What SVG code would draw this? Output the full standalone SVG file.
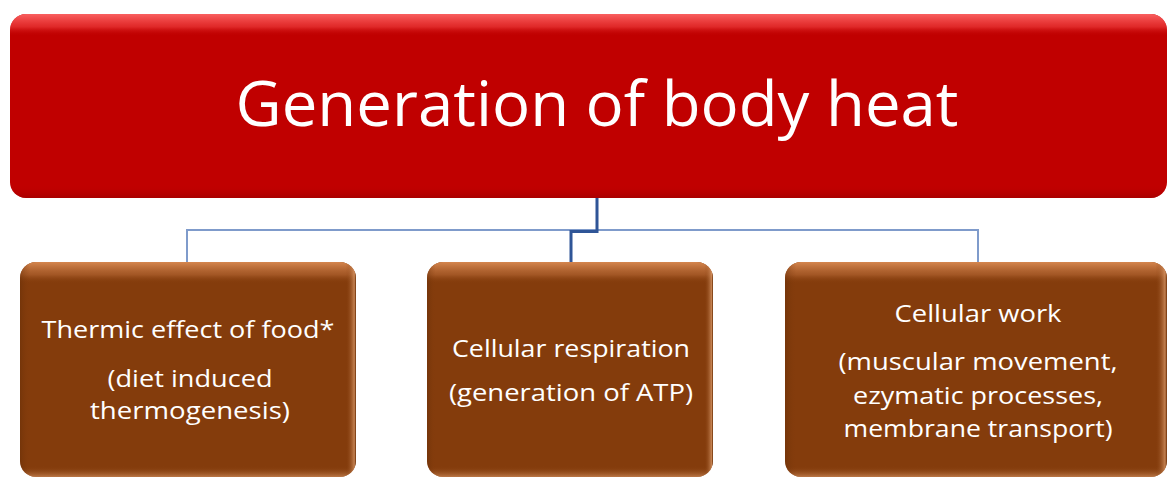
<svg xmlns="http://www.w3.org/2000/svg" width="1168" height="478" viewBox="0 0 1168 478">
<style>
.t{font-family:"Open Sans","Noto Sans","Liberation Sans",sans-serif;fill:#ffffff;text-anchor:middle}
.sub{font-size:24.5px}
.lc{fill:none;stroke:#7F9BCB;stroke-width:2}
.dc{fill:none;stroke:#2F5597;stroke-width:3}
</style>
<defs>
<linearGradient id="redHi" x1="0" y1="0" x2="0" y2="1">
<stop offset="0" stop-color="#ff6a6a" stop-opacity="0.9"/>
<stop offset="0.07" stop-color="#ff5050" stop-opacity="0.5"/>
<stop offset="0.12" stop-color="#c00000" stop-opacity="0"/>
<stop offset="0.93" stop-color="#c00000" stop-opacity="0"/>
<stop offset="1" stop-color="#900000" stop-opacity="0.5"/>
</linearGradient>
<linearGradient id="brHi" x1="0" y1="0" x2="0" y2="1">
<stop offset="0" stop-color="#d98a52" stop-opacity="0.95"/>
<stop offset="0.06" stop-color="#c0703c" stop-opacity="0.5"/>
<stop offset="0.1" stop-color="#843C0C" stop-opacity="0"/>
<stop offset="0.95" stop-color="#843C0C" stop-opacity="0"/>
<stop offset="1" stop-color="#e0a070" stop-opacity="0.6"/>
</linearGradient>
<linearGradient id="brSide" x1="0" y1="0" x2="1" y2="0">
<stop offset="0" stop-color="#5e2a06" stop-opacity="0.4"/>
<stop offset="0.03" stop-color="#843C0C" stop-opacity="0"/>
<stop offset="0.97" stop-color="#843C0C" stop-opacity="0"/>
<stop offset="0.995" stop-color="#e0a070" stop-opacity="0.7"/>
<stop offset="1" stop-color="#5e2a06" stop-opacity="0.5"/>
</linearGradient>
</defs>

<g id="connectors">
<line class="lc" x1="187" y1="230" x2="978" y2="230"/>
<line class="lc" x1="187" y1="229" x2="187" y2="262"/>
<line class="lc" x1="978" y1="229" x2="978" y2="262"/>
<polyline class="dc" points="597,198 597,231.5 571,231.5 571,262"/>
</g>

<g id="root">
<rect x="10" y="14" width="1157" height="184" rx="16" fill="#C00000"/>
<rect x="10" y="14" width="1157" height="184" rx="16" fill="url(#redHi)"/>
<text class="t" x="597" y="126" font-size="63" textLength="723" lengthAdjust="spacingAndGlyphs">Generation of body heat</text>
</g>

<g id="node1">
<rect x="20" y="262" width="336" height="215" rx="16" fill="#843C0C"/>
<rect x="20" y="262" width="336" height="215" rx="16" fill="url(#brHi)"/>
<rect x="20" y="262" width="336" height="215" rx="16" fill="url(#brSide)"/>
<text class="t sub" x="188" y="338" textLength="293" lengthAdjust="spacingAndGlyphs">Thermic effect of food*</text>
<text class="t sub" x="190" y="387" textLength="165" lengthAdjust="spacingAndGlyphs">(diet induced</text>
<text class="t sub" x="190" y="419" textLength="200" lengthAdjust="spacingAndGlyphs">thermogenesis)</text>
</g>

<g id="node2">
<rect x="427" y="262" width="286" height="215" rx="16" fill="#843C0C"/>
<rect x="427" y="262" width="286" height="215" rx="16" fill="url(#brHi)"/>
<rect x="427" y="262" width="286" height="215" rx="16" fill="url(#brSide)"/>
<text class="t sub" x="571" y="357" textLength="238" lengthAdjust="spacingAndGlyphs">Cellular respiration</text>
<text class="t sub" x="571" y="401" textLength="244" lengthAdjust="spacingAndGlyphs">(generation of ATP)</text>
</g>

<g id="node3">
<rect x="785" y="262" width="382" height="215" rx="16" fill="#843C0C"/>
<rect x="785" y="262" width="382" height="215" rx="16" fill="url(#brHi)"/>
<rect x="785" y="262" width="382" height="215" rx="16" fill="url(#brSide)"/>
<text class="t sub" x="978" y="322" textLength="167" lengthAdjust="spacingAndGlyphs">Cellular work</text>
<text class="t sub" x="978" y="370" textLength="279" lengthAdjust="spacingAndGlyphs">(muscular movement,</text>
<text class="t sub" x="978" y="404" textLength="250" lengthAdjust="spacingAndGlyphs">ezymatic processes,</text>
<text class="t sub" x="978" y="437" textLength="269" lengthAdjust="spacingAndGlyphs">membrane transport)</text>
</g>
</svg>
